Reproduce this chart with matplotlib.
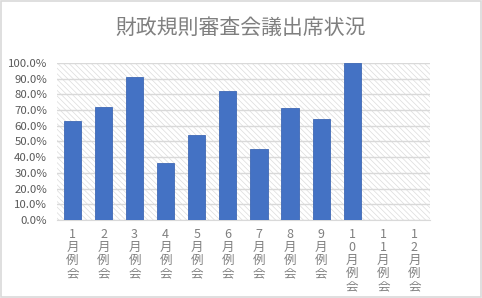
import matplotlib
matplotlib.use("Agg")
import matplotlib.pyplot as plt
from matplotlib.patches import Rectangle
from matplotlib.ticker import MultipleLocator, PercentFormatter

plt.rcParams['font.family'] = ['Noto Sans CJK JP', 'DejaVu Sans']
plt.rcParams['hatch.color'] = '#dcdcdc'
plt.rcParams['hatch.linewidth'] = 0.5

months = ['1月例会', '2月例会', '3月例会', '4月例会', '5月例会', '6月例会',
          '7月例会', '8月例会', '9月例会', '10月例会', '11月例会', '12月例会']
attendance = [0.63, 0.72, 0.91, 0.36, 0.54, 0.82, 0.45, 0.71, 0.64, 1.00, 0, 0]
title = '財政規則審査会議出席状況'

fig = plt.figure(figsize=(4.82, 2.98), dpi=100)
fig.patch.set_facecolor('white')
# light border around the chart
fig.add_artist(Rectangle((0.002, 0.003), 0.996, 0.994, transform=fig.transFigure,
                         fill=False, edgecolor='#d9d9d9', linewidth=1.2))

ax = fig.add_axes([0.118, 0.262, 0.774, 0.527])
ax.patch.set_facecolor('white')
bg = Rectangle((0, 0), 1, 1, transform=ax.transAxes, facecolor='white',
               hatch='\\\\\\\\\\\\', edgecolor='#dcdcdc', linewidth=0, zorder=0)
ax.add_patch(bg)

x = list(range(len(months)))
ax.bar(x, attendance, width=0.55, color='#4472c4', edgecolor='#3f69b5',
       linewidth=0.6, zorder=3)

ax.set_xlim(-0.5, len(months) - 0.5)
ax.set_ylim(0, 1.0)
ax.yaxis.set_major_locator(MultipleLocator(0.1))
ax.yaxis.set_major_formatter(PercentFormatter(1.0, decimals=1))
ax.grid(axis='y', color='#d9d9d9', linewidth=1.0, zorder=1)
ax.set_axisbelow(True)

for s in ['top', 'right', 'left']:
    ax.spines[s].set_visible(False)
ax.spines['bottom'].set_color('#d9d9d9')

ax.set_xticks(x)
ax.set_xticklabels(['\n'.join(m) for m in months], fontsize=9, color='#808080',
                   linespacing=1.0, va='top')
ax.tick_params(axis='x', length=0, pad=6)
ax.tick_params(axis='y', length=0, labelsize=8.2, labelcolor='#595959', pad=7)

fig.text(0.5, 0.905, title, ha='center', va='center', fontsize=15, color='#7f7f7f')

fig.savefig('out.png', dpi=100)
